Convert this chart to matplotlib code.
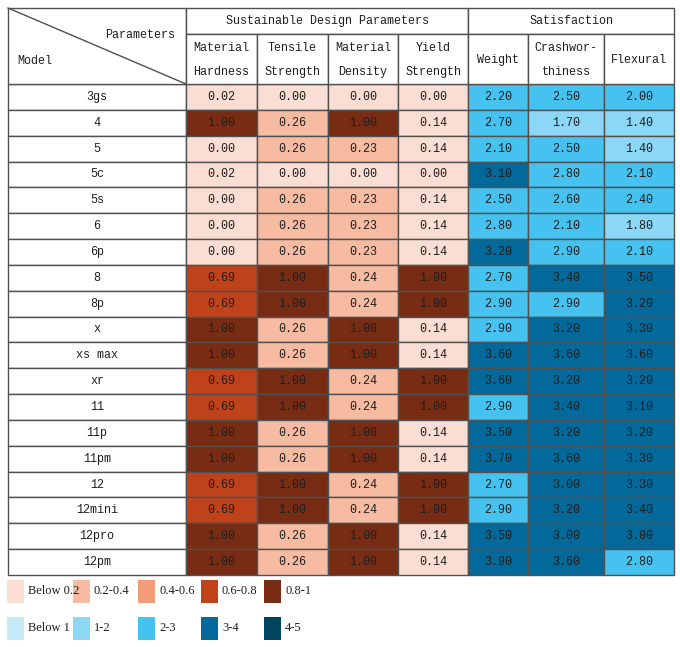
import numpy as np
import matplotlib
matplotlib.use("Agg")
import matplotlib.pyplot as plt
from matplotlib.patches import Rectangle

# ---------------- data ----------------
models = ["3gs", "4", "5", "5c", "5s", "6", "6p", "8", "8p", "x", "xs max", "xr",
          "11", "11p", "11pm", "12", "12mini", "12pro", "12pm"]
hardness = [0.02, 1.00, 0.00, 0.02, 0.00, 0.00, 0.00, 0.69, 0.69, 1.00, 1.00, 0.69,
            0.69, 1.00, 1.00, 0.69, 0.69, 1.00, 1.00]
tensile = [0.00, 0.26, 0.26, 0.00, 0.26, 0.26, 0.26, 1.00, 1.00, 0.26, 0.26, 1.00,
           1.00, 0.26, 0.26, 1.00, 1.00, 0.26, 0.26]
density = [0.00, 1.00, 0.23, 0.00, 0.23, 0.23, 0.23, 0.24, 0.24, 1.00, 1.00, 0.24,
           0.24, 1.00, 1.00, 0.24, 0.24, 1.00, 1.00]
yield_strength = [0.00, 0.14, 0.14, 0.00, 0.14, 0.14, 0.14, 1.00, 1.00, 0.14, 0.14, 1.00,
                  1.00, 0.14, 0.14, 1.00, 1.00, 0.14, 0.14]
weight = [2.20, 2.70, 2.10, 3.10, 2.50, 2.80, 3.20, 2.70, 2.90, 2.90, 3.60, 3.60,
          2.90, 3.50, 3.70, 2.70, 2.90, 3.50, 3.90]
crash = [2.50, 1.70, 2.50, 2.80, 2.60, 2.10, 2.90, 3.40, 2.90, 3.20, 3.60, 3.20,
         3.40, 3.20, 3.60, 3.00, 3.20, 3.00, 3.60]
flexural = [2.00, 1.40, 1.40, 2.10, 2.40, 1.80, 2.10, 3.50, 3.20, 3.30, 3.60, 3.20,
            3.10, 3.20, 3.30, 3.30, 3.40, 3.00, 2.80]

group_titles = ["Sustainable Design Parameters", "Satisfaction"]
col_titles = [("Material", "Hardness"), ("Tensile", "Strength"), ("Material", "Density"),
              ("Yield", "Strength"), ("Weight",), ("Crashwor-", "thiness"), ("Flexural",)]

orange_bounds = [0.2, 0.4, 0.6, 0.8]
orange_labels = ["Below 0.2", "0.2-0.4", "0.4-0.6", "0.6-0.8", "0.8-1"]
blue_bounds = [1, 2, 3, 4]
blue_labels = ["Below 1", "1-2", "2-3", "3-4", "4-5"]

# ---------------- style ----------------
orange_colors = ["#FBDED3", "#F6BBA1", "#F29C79", "#C0421B", "#782C14"]
blue_colors = ["#C4EAF8", "#8BD7F5", "#45C2EF", "#02699A", "#00445F"]
line_col = "#505050"
txt_col = "#1e1e1e"
font = dict(family=["Liberation Mono", "DejaVu Sans Mono"], size=8.5, color=txt_col)
leg_font = dict(family=["Liberation Serif", "DejaVu Serif"], size=9, color=txt_col)

col_w = [178, 71, 71, 70, 70, 60, 76, 70]
x0, y0 = 8, 8
h1, h2 = 26, 50
row_h = (575 - 84) / len(models)

fig = plt.figure(figsize=(6.8, 6.47), dpi=100)
ax = fig.add_axes([0, 0, 1, 1])
ax.set_xlim(0, 680)
ax.set_ylim(647, 0)
ax.axis("off")

xs = np.concatenate([[x0], x0 + np.cumsum(col_w)])
hdr_bot = y0 + h1 + h2

def bin_idx(v, bounds):
    return int(min(np.digitize(v, bounds), len(bounds)))

orange_cols = [hardness, tensile, density, yield_strength]
blue_cols = [weight, crash, flexural]
all_cols = orange_cols + blue_cols

for r, m in enumerate(models):
    yt = hdr_bot + r * row_h
    ax.add_patch(Rectangle((xs[0], yt), col_w[0], row_h, facecolor="white",
                           edgecolor=line_col, lw=1))
    ax.text((xs[0] + xs[1]) / 2, yt + row_h / 2, m, ha="center", va="center", **font)
    for c, vals in enumerate(all_cols):
        v = vals[r]
        if c < 4:
            fc = orange_colors[bin_idx(v, orange_bounds)]
        else:
            fc = blue_colors[bin_idx(v, blue_bounds)]
        ax.add_patch(Rectangle((xs[c + 1], yt), col_w[c + 1], row_h, facecolor=fc,
                               edgecolor=line_col, lw=1))
        ax.text((xs[c + 1] + xs[c + 2]) / 2, yt + row_h / 2, f"{v:.2f}",
                ha="center", va="center", **font)

# header
ax.add_patch(Rectangle((xs[0], y0), col_w[0], h1 + h2, facecolor="white",
                       edgecolor=line_col, lw=1))
ax.plot([xs[0], xs[1]], [y0, hdr_bot], color=line_col, lw=1)
ax.text(140, 35, "Parameters", ha="center", va="center", **font)
ax.text(17, 61, "Model", ha="left", va="center", **font)

ax.add_patch(Rectangle((xs[1], y0), xs[5] - xs[1], h1, facecolor="white",
                       edgecolor=line_col, lw=1))
ax.text((xs[1] + xs[5]) / 2, y0 + h1 / 2, group_titles[0], ha="center", va="center", **font)
ax.add_patch(Rectangle((xs[5], y0), xs[8] - xs[5], h1, facecolor="white",
                       edgecolor=line_col, lw=1))
ax.text((xs[5] + xs[8]) / 2, y0 + h1 / 2, group_titles[1], ha="center", va="center", **font)

for c, t in enumerate(col_titles):
    xl = xs[c + 1]
    ax.add_patch(Rectangle((xl, y0 + h1), col_w[c + 1], h2, facecolor="white",
                           edgecolor=line_col, lw=1))
    xc = xl + col_w[c + 1] / 2
    yc = y0 + h1 + h2 / 2
    if len(t) == 2:
        ax.text(xc, yc - 11, t[0], ha="center", va="center", **font)
        ax.text(xc, yc + 13, t[1], ha="center", va="center", **font)
    else:
        ax.text(xc, yc + 1, t[0], ha="center", va="center", **font)

# legend
leg_x = [7, 73, 138, 201, 264]
for row_y, cols, labs in [(580, orange_colors, orange_labels),
                          (617, blue_colors, blue_labels)]:
    for lx, fc, lab in zip(leg_x, cols, labs):
        ax.add_patch(Rectangle((lx, row_y), 17, 23, facecolor=fc, edgecolor="none"))
        ax.text(lx + 21, row_y + 11, lab, ha="left", va="center", **leg_font)

fig.savefig("out.png", dpi=100, facecolor="white")
